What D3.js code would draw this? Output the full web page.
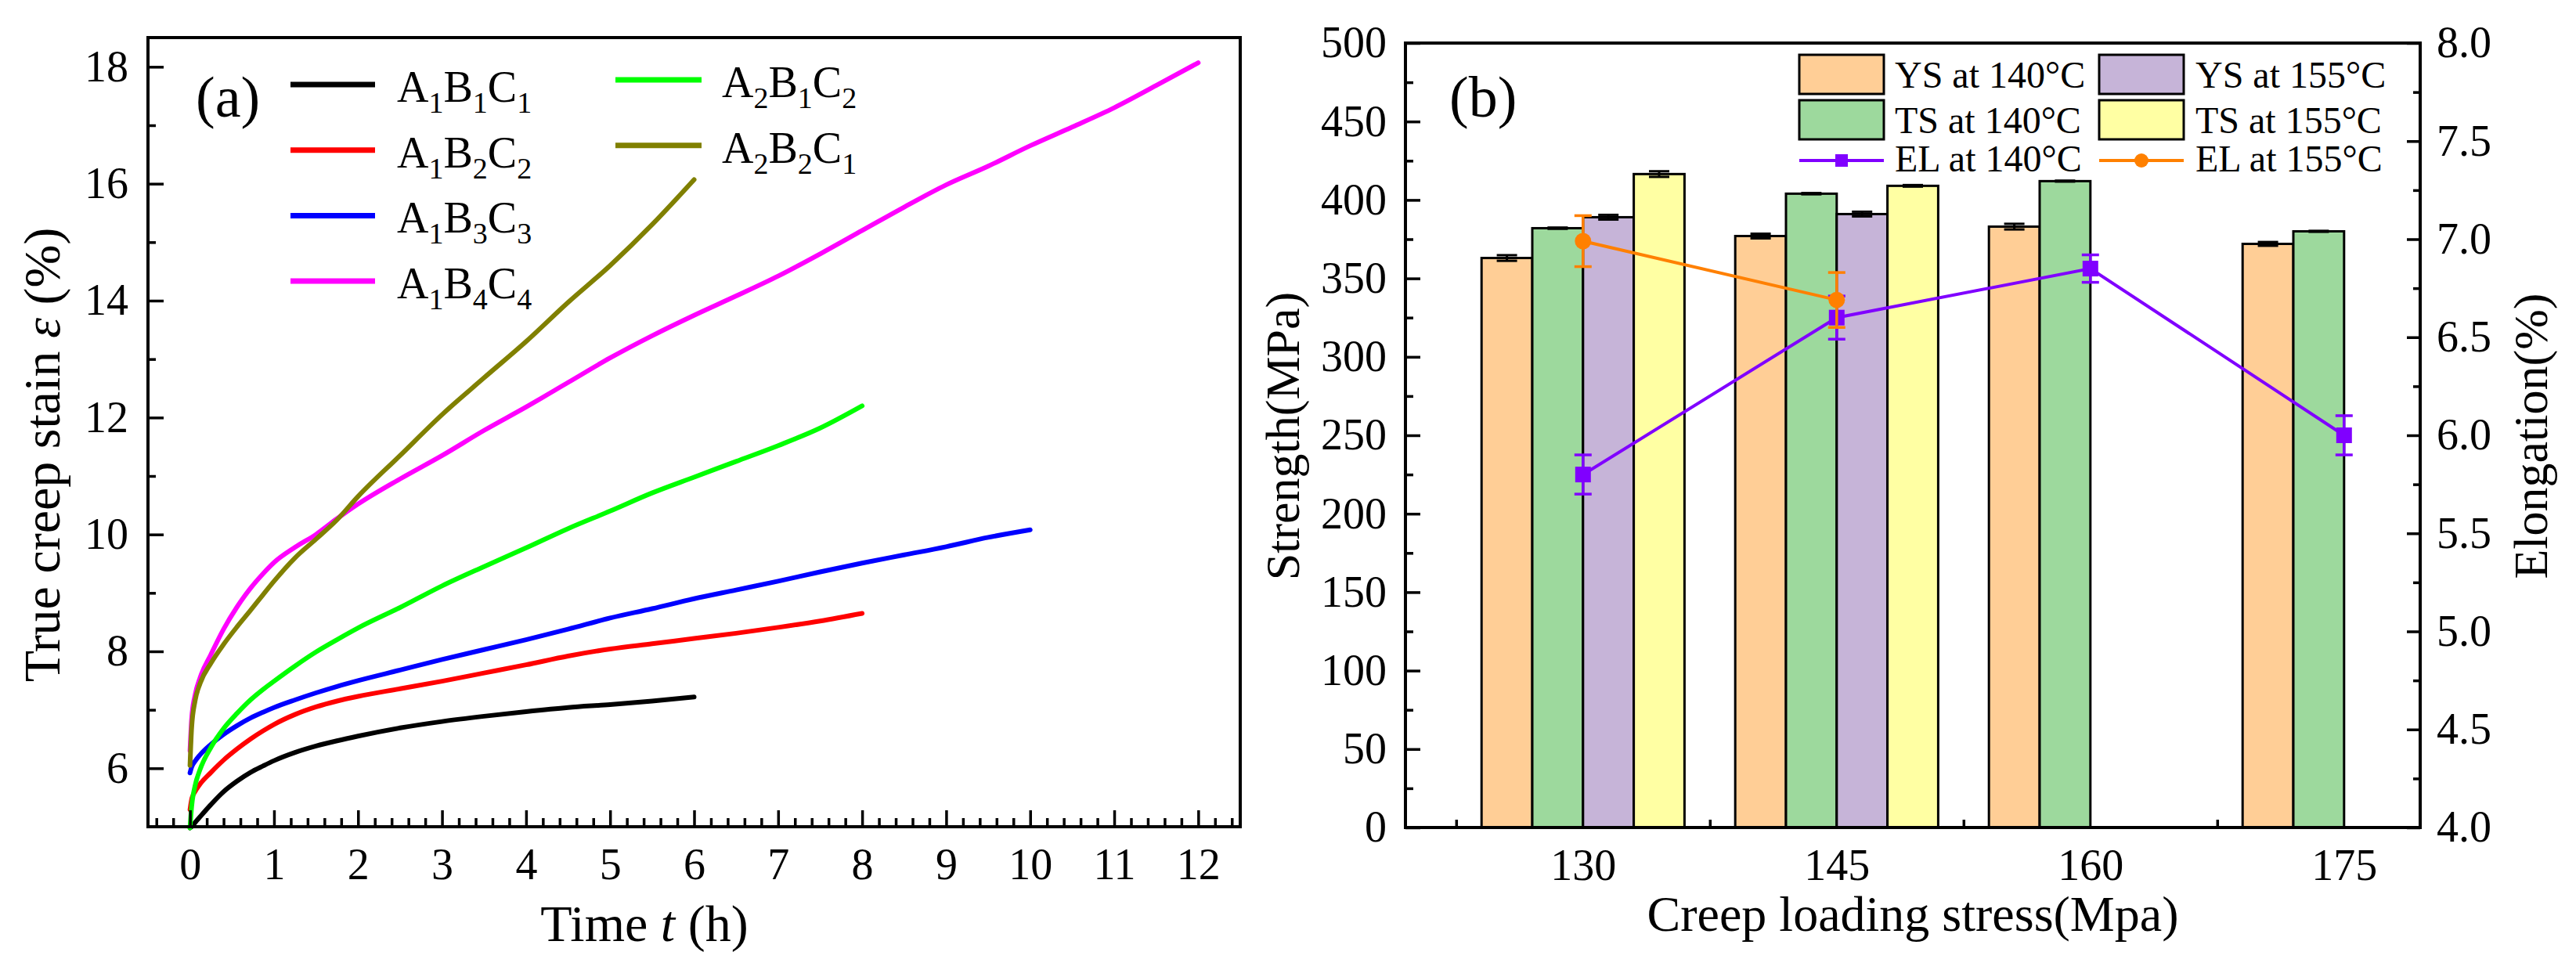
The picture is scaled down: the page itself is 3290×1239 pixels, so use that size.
<!DOCTYPE html>
<html><head><meta charset="utf-8">
<script src="https://cdn.jsdelivr.net/npm/d3@7"></script>
<style>body{margin:0;background:#fff}</style>
</head><body><svg id="c" width="3290" height="1239" xmlns="http://www.w3.org/2000/svg"></svg>
<script>
// ---------- DATA : panel (a) ----------
const timeGrid = [0,0.02,0.06,0.12,0.25,0.4,0.56,0.72,0.87,1,1.25,1.5,1.75,2,2.5,3,3.5,4,4.5,5,5.5,6,6.5,7,7.5,8,8.5,9,9.5,10,10.5,11,11.5,12];
const strainA1B1C1 = [4.98,5.0,5.07,5.17,5.38,5.6,5.78,5.93,6.04,6.13,6.27,6.38,6.47,6.55,6.69,6.8,6.89,6.97,7.04,7.09,7.15,7.22];
const strainA1B2C2 = [5.29,5.47,5.6,5.73,5.93,6.14,6.33,6.5,6.64,6.75,6.92,7.05,7.15,7.23,7.36,7.49,7.63,7.77,7.92,8.04,8.13,8.22,8.31,8.41,8.52,8.65];
const strainA1B3C3 = [5.92,6.02,6.12,6.23,6.41,6.58,6.73,6.86,6.96,7.04,7.17,7.29,7.4,7.5,7.68,7.86,8.03,8.2,8.38,8.57,8.73,8.9,9.05,9.2,9.36,9.51,9.65,9.79,9.95,10.08];
const strainA1B4C4 = [6.3,6.85,7.25,7.55,7.95,8.38,8.76,9.08,9.33,9.52,9.78,10.0,10.27,10.52,10.95,11.35,11.78,12.18,12.6,13.02,13.4,13.75,14.08,14.42,14.8,15.2,15.6,15.98,16.3,16.65,16.97,17.3,17.68,18.07];
const strainA2B1C2 = [4.98,5.35,5.7,5.98,6.36,6.68,6.94,7.17,7.35,7.49,7.75,7.99,8.2,8.4,8.75,9.12,9.45,9.77,10.1,10.4,10.71,10.98,11.25,11.52,11.82,12.2];
const strainA2B2C1 = [6.05,6.7,7.15,7.45,7.8,8.12,8.42,8.7,8.97,9.2,9.6,9.92,10.25,10.65,11.35,12.05,12.68,13.3,13.97,14.6,15.3,16.07];
const seriesNames = ["A1B1C1","A1B2C2","A1B3C3","A1B4C4","A2B1C2","A2B2C1"];
const seriesColors = ["#000000","#ff0000","#0000ff","#ff00ff","#00ff00","#808000"];
const seriesValues = [strainA1B1C1,strainA1B2C2,strainA1B3C3,strainA1B4C4,strainA2B1C2,strainA2B2C1];
const timeTicks = [0,1,2,3,4,5,6,7,8,9,10,11,12];
const strainTicks = [6,8,10,12,14,16,18];

// ---------- DATA : panel (b) ----------
const stressCats = [130,145,160,175];
const ys140 = [363,377,383,372];
const ts140 = [382,404,412,380];
const ys155 = [389,391,null,null];
const ts155 = [416.5,409,null,null];
const ys140Err = [1.8,1.5,1.8,1.2];
const ts140Err = [0.4,0.4,0.3,0.3];
const ys155Err = [1.5,1.5,null,null];
const ts155Err = [1.8,0.5,null,null];
const el140 = [5.8,6.6,6.85,6.0];
const el140Err = [0.1,0.11,0.07,0.1];
const el155 = [6.99,6.69,null,null];
const el155Err = [0.13,0.14,null,null];
const barNames = ["YS at 140°C","TS at 140°C","YS at 155°C","TS at 155°C"];
const barColors = ["#ffce96","#9dd99d","#c6b4d8","#ffffa3"];
const strengthTicks = [0,50,100,150,200,250,300,350,400,450,500];
const elongTicks = [4.0,4.5,5.0,5.5,6.0,6.5,7.0,7.5,8.0];

// ---------- DRAW ----------
const FONT = '"Liberation Serif","Times New Roman",Times,serif';
const svg = d3.select("#c");
svg.append("rect").attr("width",3290).attr("height",1239).attr("fill","#fff");

function styleAxis(g, fs){
  g.attr("font-family",FONT).attr("font-size",fs);
  g.select(".domain").remove();
  g.selectAll(".tick line").attr("stroke","#000").attr("stroke-width",3.5);
  g.selectAll(".tick text").attr("fill","#000");
}

// ===== Panel (a) =====
const xA = d3.scaleLinear().domain([-0.5,12.5]).range([189,1584]);
const yA = d3.scaleLinear().domain([5,18.5]).range([1056,48]);
const gA = svg.append("g");

const line = d3.line().x(d=>xA(d[0])).y(d=>yA(d[1])).curve(d3.curveMonotoneX);
seriesValues.forEach((vals,i)=>{
  const pts = vals.map((v,j)=>[timeGrid[j],v]);
  gA.append("path").datum(pts).attr("d",line).attr("fill","none")
    .attr("stroke",seriesColors[i]).attr("stroke-width",6).attr("stroke-linecap","round").attr("stroke-linejoin","round");
});

// axes a
const minorT = d3.range(-2,63).filter(i=>i%5!==0).map(i=>i*0.2);
gA.append("g").attr("transform","translate(0,1056)")
  .call(d3.axisBottom(xA).tickValues(minorT).tickSize(-11).tickSizeOuter(0).tickFormat(""))
  .call(g=>styleAxis(g,56));
gA.append("g").attr("transform","translate(0,1056)")
  .call(d3.axisBottom(xA).tickValues(timeTicks).tickSize(-21).tickSizeOuter(0).tickPadding(27).tickFormat(d3.format("d")))
  .call(g=>styleAxis(g,56));
gA.append("g").attr("transform","translate(189,0)")
  .call(d3.axisLeft(yA).tickValues([7,9,11,13,15,17]).tickSize(-10).tickSizeOuter(0).tickFormat(""))
  .call(g=>styleAxis(g,56));
gA.append("g").attr("transform","translate(189,0)")
  .call(d3.axisLeft(yA).tickValues(strainTicks).tickSize(-20).tickSizeOuter(0).tickPadding(25).tickFormat(d3.format("d")))
  .call(g=>styleAxis(g,56));
gA.append("rect").attr("x",189).attr("y",48).attr("width",1584-189).attr("height",1056-48)
  .attr("fill","none").attr("stroke","#000").attr("stroke-width",4);

// titles a
const tx = gA.append("text").attr("x",823).attr("y",1202).attr("text-anchor","middle")
  .attr("font-family",FONT).attr("font-size",66);
tx.append("tspan").text("Time ");
tx.append("tspan").attr("font-style","italic").text("t");
tx.append("tspan").text(" (h)");
const ty = gA.append("text").attr("transform","translate(76,581) rotate(-90)").attr("text-anchor","middle")
  .attr("font-family",FONT).attr("font-size",66);
ty.append("tspan").text("True creep stain ");
ty.append("tspan").attr("font-style","italic").text("ε");
ty.append("tspan").text(" (%)");
gA.append("text").attr("x",250).attr("y",149).attr("font-family",FONT).attr("font-size",74).text("(a)");

// legend a
function subText(sel, name){
  const parts = name.match(/[A-Z]\d/g);
  parts.forEach((p,k)=>{
    sel.append("tspan").attr("font-size",56).attr("dy",k===0?0:-14).text(p[0]);
    sel.append("tspan").attr("font-size",38).attr("dy",14).text(p[1]);
  });
}
seriesNames.forEach((n,i)=>{
  const col = i<4?0:1, row = i<4?i:i-4;
  const lx0 = col===0?371:786, lx1 = col===0?479:896, txx = col===0?507:922;
  const base = (col===0?130:124) + row*83.7;
  gA.append("line").attr("x1",lx0).attr("x2",lx1).attr("y1",base-22).attr("y2",base-22)
    .attr("stroke",seriesColors[i]).attr("stroke-width",7);
  const t = gA.append("text").attr("x",txx).attr("y",base).attr("font-family",FONT);
  subText(t,n);
});

// ===== Panel (b) =====
const xB = d3.scaleLinear().domain([119.5,179.5]).range([1795,3091]);
const yL = d3.scaleLinear().domain([0,500]).range([1057,55]);
const yR = d3.scaleLinear().domain([4,8]).range([1057,55]);
const gB = svg.append("g");
const barSets = [ys140,ts140,ys155,ts155];
const errSets = [ys140Err,ts140Err,ys155Err,ts155Err];
const bw = 3;
barSets.forEach((vals,k)=>{
  stressCats.forEach((c,j)=>{
    const v = vals[j]; if(v==null) return;
    const x0 = xB(c+(k-2)*bw), x1 = xB(c+(k-1)*bw);
    gB.append("rect").attr("x",x0).attr("y",yL(v)).attr("width",x1-x0).attr("height",yL(0)-yL(v))
      .attr("fill",barColors[k]).attr("stroke","#000").attr("stroke-width",3);
  });
});
barSets.forEach((vals,k)=>{
  stressCats.forEach((c,j)=>{
    const v = vals[j]; if(v==null) return;
    const e = errSets[k][j];
    const xm = xB(c+(k-1.5)*bw);
    gB.append("line").attr("x1",xm).attr("x2",xm).attr("y1",yL(v+e)).attr("y2",yL(v-e)).attr("stroke","#000").attr("stroke-width",3);
    [v+e,v-e].forEach(q=>gB.append("line").attr("x1",xm-13).attr("x2",xm+13).attr("y1",yL(q)).attr("y2",yL(q)).attr("stroke","#000").attr("stroke-width",3));
  });
});

function elSeries(vals, errs, color, marker){
  const pts = stressCats.map((c,j)=>[c,vals[j],errs[j]]).filter(d=>d[1]!=null);
  gB.append("path").datum(pts).attr("d",d3.line().x(d=>xB(d[0])).y(d=>yR(d[1])))
    .attr("fill","none").attr("stroke",color).attr("stroke-width",4);
  pts.forEach(d=>{
    const x = xB(d[0]);
    gB.append("line").attr("x1",x).attr("x2",x).attr("y1",yR(d[1]+d[2])).attr("y2",yR(d[1]-d[2])).attr("stroke",color).attr("stroke-width",3.5);
    [d[1]+d[2],d[1]-d[2]].forEach(q=>gB.append("line").attr("x1",x-11).attr("x2",x+11).attr("y1",yR(q)).attr("y2",yR(q)).attr("stroke",color).attr("stroke-width",3.5));
    if(marker==="square") gB.append("rect").attr("x",x-10).attr("y",yR(d[1])-10).attr("width",20).attr("height",20).attr("fill",color);
    else gB.append("circle").attr("cx",x).attr("cy",yR(d[1])).attr("r",10.5).attr("fill",color);
  });
}
elSeries(el140, el140Err, "#8000ff", "square");
elSeries(el155, el155Err, "#ff8000", "circle");

// axes b
gB.append("g").attr("transform","translate(1795,0)")
  .call(d3.axisLeft(yL).tickValues(d3.range(25,500,50)).tickSize(-10).tickSizeOuter(0).tickFormat(""))
  .call(g=>styleAxis(g,56));
gB.append("g").attr("transform","translate(1795,0)")
  .call(d3.axisLeft(yL).tickValues(strengthTicks).tickSize(-19).tickSizeOuter(0).tickPadding(24).tickFormat(d3.format("d")))
  .call(g=>styleAxis(g,56));
gB.append("g").attr("transform","translate(3091,0)")
  .call(d3.axisRight(yR).tickValues(d3.range(0,8).map(i=>4.25+i*0.5)).tickSize(-9).tickSizeOuter(0).tickFormat(""))
  .call(g=>styleAxis(g,56));
gB.append("g").attr("transform","translate(3091,0)")
  .call(d3.axisRight(yR).tickValues(elongTicks).tickSize(-17).tickSizeOuter(0).tickPadding(21).tickFormat(d3.format(".1f")))
  .call(g=>styleAxis(g,56));
gB.append("g").attr("transform","translate(0,1057)")
  .call(d3.axisBottom(xB).tickValues(stressCats.map(c=>c-7.5)).tickSize(-10).tickSizeOuter(0).tickFormat(""))
  .call(g=>styleAxis(g,56));
gB.append("g").attr("transform","translate(0,1057)")
  .call(d3.axisBottom(xB).tickValues(stressCats).tickSize(0).tickSizeOuter(0).tickPadding(27).tickFormat(d3.format("d")))
  .call(g=>styleAxis(g,56));
gB.append("rect").attr("x",1795).attr("y",55).attr("width",3091-1795).attr("height",1057-55)
  .attr("fill","none").attr("stroke","#000").attr("stroke-width",4);

// titles b
gB.append("text").attr("x",2443).attr("y",1189).attr("text-anchor","middle").attr("font-family",FONT).attr("font-size",64).text("Creep loading stress(Mpa)");
gB.append("text").attr("transform","translate(1659,557) rotate(-90)").attr("text-anchor","middle").attr("font-family",FONT).attr("font-size",62).text("Strength(MPa)");
gB.append("text").attr("transform","translate(3253,557) rotate(-90)").attr("text-anchor","middle").attr("font-family",FONT).attr("font-size",62).text("Elongation(%)");
gB.append("text").attr("x",1851).attr("y",149).attr("font-family",FONT).attr("font-size",74).text("(b)");

// legend b
const legCols = [[2298,2420],[2681,2804]];
barNames.forEach((n,k)=>{
  const col = k<2?0:1, row = k%2;
  const top = row===0?70:128;
  gB.append("rect").attr("x",legCols[col][0]).attr("y",top).attr("width",108).attr("height",50)
    .attr("fill",barColors[k]).attr("stroke","#000").attr("stroke-width",3);
  gB.append("text").attr("x",legCols[col][1]).attr("y",top+42).attr("font-family",FONT).attr("font-size",48).text(n);
});
const elNames = ["EL at 140°C","EL at 155°C"], elColors = ["#8000ff","#ff8000"];
elNames.forEach((n,k)=>{
  const x0 = legCols[k][0];
  gB.append("line").attr("x1",x0).attr("x2",x0+108).attr("y1",205).attr("y2",205).attr("stroke",elColors[k]).attr("stroke-width",4);
  if(k===0) gB.append("rect").attr("x",x0+54-8).attr("y",205-8).attr("width",16).attr("height",16).attr("fill",elColors[k]);
  else gB.append("circle").attr("cx",x0+54).attr("cy",205).attr("r",9).attr("fill",elColors[k]);
  gB.append("text").attr("x",legCols[k][1]).attr("y",219).attr("font-family",FONT).attr("font-size",48).text(n);
});
</script>
</body></html>
